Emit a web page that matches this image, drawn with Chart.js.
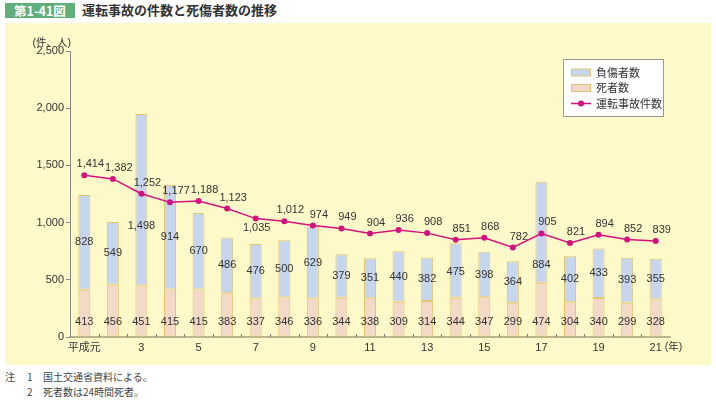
<!DOCTYPE html>
<html lang="ja">
<head>
<meta charset="utf-8">
<script src="https://cdn.jsdelivr.net/npm/chart.js@4"></script>
<style>
  body { margin: 0; width: 716px; height: 400px; position: relative; background: #fff; overflow: hidden;
         font-family: 'Liberation Sans', 'Noto Sans CJK JP', sans-serif; }
  #figno { position: absolute; left: 5px; top: 3px; width: 70px; height: 15px; background: #5fae7c; color: #fff;
           font-weight: bold; font-size: 12.5px; line-height: 15px; text-align: center; font-family: 'Noto Sans CJK JP'; }
  #title { position: absolute; left: 82px; top: 1px; font-size: 13px; font-weight: bold; color: #333; line-height: 18px;
           font-family: 'Noto Sans CJK JP'; }
  #panel { position: absolute; left: 5px; top: 23px; width: 706px; height: 342px; background: #fef9c8; }
  .note { position: absolute; font-size: 10px; color: #444; font-family: 'Noto Sans CJK JP'; line-height: 12px; }
</style>
</head>
<body>
<div id="figno">第1-41図</div>
<div id="title">運転事故の件数と死傷者数の推移</div>
<div id="panel"><canvas id="chart" width="706" height="342"></canvas></div>
<div class="note" style="left:5px; top:371px;">注</div>
<div class="note" style="left:27px; top:371px;">1</div>
<div class="note" style="left:43px; top:371px;">国土交通省資料による。</div>
<div class="note" style="left:27px; top:386px;">2</div>
<div class="note" style="left:43px; top:386px;">死者数は24時間死者。</div>
<script>
// 平成元年〜21年
const years = ['平成元', '2', '3', '4', '5', '6', '7', '8', '9', '10', '11',
               '12', '13', '14', '15', '16', '17', '18', '19', '20', '21'];
const deaths = [413, 456, 451, 415, 415, 383, 337, 346, 336, 344, 338,
                309, 314, 344, 347, 299, 474, 304, 340, 299, 328];
const injuries = [828, 549, 1498, 914, 670, 486, 476, 500, 629, 379, 351,
                  440, 382, 475, 398, 364, 884, 402, 433, 393, 355];
const accidents = [1414, 1382, 1252, 1177, 1188, 1123, 1035, 1012, 974, 949, 904,
                   936, 908, 851, 868, 782, 905, 821, 894, 852, 839];
const yTicks = [0, 500, 1000, 1500, 2000, 2500];

const NUM_FONT = "11px 'Liberation Sans', 'Noto Sans CJK JP', sans-serif";
const JP_FONT = "11px 'Noto Sans CJK JP', sans-serif";
const fmt = v => v.toLocaleString('en-US');

// ラベル・凡例・目盛りなどの描画
const extras = {
  id: 'extras',
  afterDatasetsDraw(chart) {
    const ctx = chart.ctx;
    const area = chart.chartArea;
    const x = chart.scales.x;
    ctx.save();

    // x軸の区切り目盛り（上向き）
    const w = (area.right - area.left) / years.length;
    ctx.strokeStyle = '#777';
    ctx.lineWidth = 1;
    for (let i = 1; i < years.length; i++) {
      const px = Math.round(area.left + i * w) + 0.5;
      ctx.beginPath();
      ctx.moveTo(px, area.bottom);
      ctx.lineTo(px, area.bottom - 3);
      ctx.stroke();
    }

    ctx.fillStyle = '#333';
    ctx.font = NUM_FONT;
    ctx.textAlign = 'center';
    ctx.textBaseline = 'middle';

    const deathMeta = chart.getDatasetMeta(0).data;
    const injMeta = chart.getDatasetMeta(1).data;
    const lineMeta = chart.getDatasetMeta(2).data;

    deathMeta.forEach((bar, i) => {
      ctx.fillText(fmt(deaths[i]), bar.x, area.bottom - 15);
    });
    injMeta.forEach((bar, i) => {
      const mid = (bar.y + bar.base) / 2;
      const ly = Math.max(mid, lineMeta[i].y + 32);
      ctx.fillText(fmt(injuries[i]), bar.x, ly);
    });
    lineMeta.forEach((pt, i) => {
      // 平成7年だけ線の下に表示
      const below = years[i] === '7';
      ctx.fillText(fmt(accidents[i]), pt.x + (below ? 1 : 6), below ? pt.y + 9 : pt.y - 11);
    });

    // 単位
    ctx.font = "10.5px 'Liberation Sans', 'Noto Sans CJK JP', sans-serif";
    ctx.textAlign = 'right';
    ctx.fillText('(件、人)', area.left + 1, area.top - 8);
    ctx.textAlign = 'left';
    const lastX = x.getPixelForValue(years.length - 1);
    ctx.fillText('(年)', lastX + 9, area.bottom + 10);

    // 凡例
    const bx = area.right - 107, by = area.top + 8;
    ctx.fillStyle = '#fff';
    ctx.fillRect(bx, by, 100, 57);
    ctx.strokeStyle = '#999';
    ctx.strokeRect(bx + 0.5, by + 0.5, 100, 57);
    const items = [
      { text: '負傷者数', fill: '#c6d6ef' },
      { text: '死者数', fill: '#f3d9c7' },
      { text: '運転事故件数', line: true }
    ];
    items.forEach((it, k) => {
      const cy = by + 13.5 + k * 15.5;
      if (it.line) {
        ctx.strokeStyle = '#d2127e';
        ctx.lineWidth = 1.5;
        ctx.beginPath();
        ctx.moveTo(bx + 8, cy);
        ctx.lineTo(bx + 28, cy);
        ctx.stroke();
        ctx.fillStyle = '#d2127e';
        ctx.beginPath();
        ctx.arc(bx + 18, cy, 3, 0, Math.PI * 2);
        ctx.fill();
      } else {
        ctx.fillStyle = it.fill;
        ctx.fillRect(bx + 8.5, cy - 3.5, 19, 7);
        ctx.strokeStyle = '#e3c46f';
        ctx.lineWidth = 1;
        ctx.strokeRect(bx + 8.5, cy - 3.5, 19, 7);
      }
      ctx.fillStyle = '#333';
      ctx.font = JP_FONT;
      ctx.textAlign = 'left';
      ctx.fillText(it.text, bx + 33, cy);
    });
    ctx.restore();
  }
};

const ctx = document.getElementById('chart').getContext('2d');
new Chart(ctx, {
  type: 'bar',
  data: {
    labels: years,
    datasets: [
      {
        label: '死者数', data: deaths, stack: 'bar', order: 2,
        backgroundColor: '#f3d9c7', borderColor: '#e3c46f', borderWidth: 1, borderSkipped: false,
        barPercentage: 0.42, categoryPercentage: 1
      },
      {
        label: '負傷者数', data: injuries, stack: 'bar', order: 2,
        backgroundColor: '#c6d6ef', borderColor: '#e3c46f', borderWidth: 1, borderSkipped: false,
        barPercentage: 0.42, categoryPercentage: 1
      },
      {
        type: 'line', label: '運転事故件数', data: accidents, stack: 'line', order: 1,
        borderColor: '#d2127e', backgroundColor: '#d2127e', borderWidth: 1.5,
        pointRadius: 3, pointBorderWidth: 0, tension: 0
      }
    ]
  },
  options: {
    responsive: false,
    animation: false,
    layout: { padding: { top: 28, right: 41, left: 0, bottom: 0 } },
    plugins: { legend: { display: false }, tooltip: { enabled: false } },
    scales: {
      x: {
        stacked: true,
        grid: { display: false, drawTicks: false, tickLength: 0 },
        border: { color: '#bdb48c', width: 2 },
        ticks: {
          autoSkip: false, maxRotation: 0, padding: 4, color: '#333',
          font: { family: "'Liberation Sans', 'Noto Sans CJK JP', sans-serif", size: 11 },
          callback: (v, i) => (i % 2 === 0 ? years[i] : '')
        },
        afterFit: s => { s.height = 28; }
      },
      y: {
        stacked: true, min: 0, max: 2500,
        afterBuildTicks: s => { s.ticks = yTicks.map(v => ({ value: v })); },
        grid: { drawOnChartArea: false, drawTicks: true, tickLength: 4, color: '#888' },
        border: { color: '#888', width: 1 },
        ticks: {
          padding: 2, color: '#333',
          font: { family: "'Liberation Sans', sans-serif", size: 11 },
          callback: v => fmt(v)
        },
        afterFit: s => { s.width = 65; }
      }
    }
  },
  plugins: [extras]
});
</script>
</body>
</html>
